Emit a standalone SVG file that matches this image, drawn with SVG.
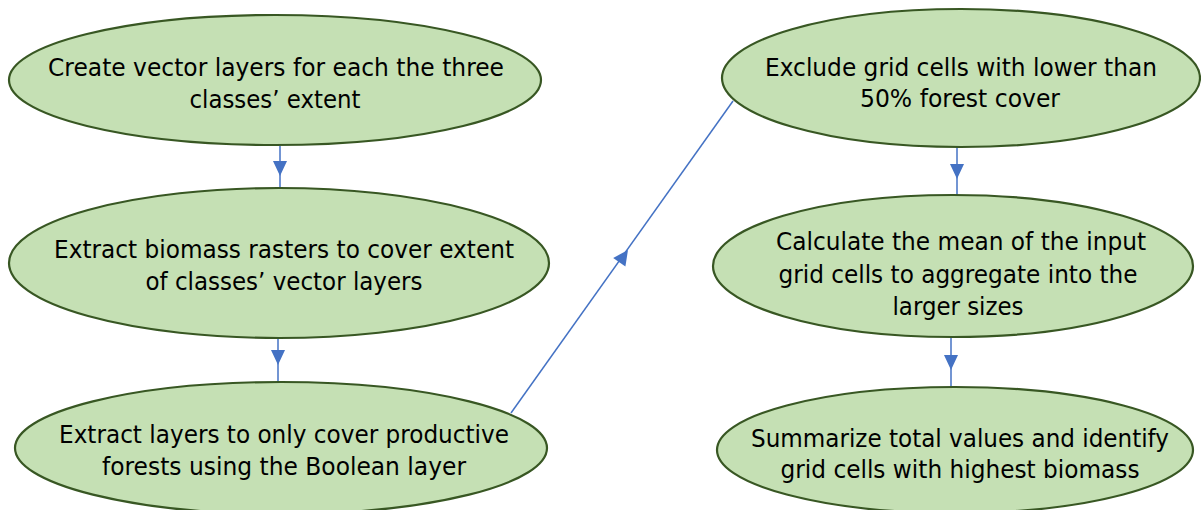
<svg xmlns="http://www.w3.org/2000/svg" width="1201" height="510" viewBox="0 0 1201 510">
<defs>
<style>
.node ellipse{fill:#C5E0B4;stroke:#385723;stroke-width:2.2}
.node text{font-family:"DejaVu Sans","Liberation Sans",sans-serif;font-size:24px;fill:#000;text-anchor:middle}
.conn line{stroke:#4472C4;stroke-width:1.5;fill:none}
.conn path{fill:#4472C4;stroke:none}
</style>
</defs>
<rect width="1201" height="510" fill="#fff"/>
<g class="conn" id="connectors">
<line x1="280" y1="146" x2="280" y2="188"/>
<path d="M273,161 L287,161 L280,176 Z"/>
<line x1="278" y1="337" x2="278" y2="382"/>
<path d="M271,350 L285,350 L278,365 Z"/>
<line x1="511" y1="413" x2="733" y2="101"/>
<path d="M628,250 L625.4,266.6 L613.2,257.9 Z"/>
<line x1="957" y1="147" x2="957" y2="196"/>
<path d="M950,164 L964,164 L957,179 Z"/>
<line x1="951" y1="338" x2="951" y2="387"/>
<path d="M944,355 L958,355 L951,370 Z"/>
</g>
<g class="node" id="n1">
<ellipse cx="275" cy="80" rx="266" ry="65"/>
<text x="276" y="76" textLength="456" lengthAdjust="spacingAndGlyphs">Create vector layers for each the three</text>
<text x="275" y="108" textLength="171" lengthAdjust="spacingAndGlyphs">classes’ extent</text>
</g>
<g class="node" id="n2">
<ellipse cx="279" cy="263" rx="270" ry="75"/>
<text x="284" y="258" textLength="460" lengthAdjust="spacingAndGlyphs">Extract biomass rasters to cover extent</text>
<text x="284" y="290" textLength="277" lengthAdjust="spacingAndGlyphs">of classes’ vector layers</text>
</g>
<g class="node" id="n3">
<ellipse cx="281" cy="448" rx="266" ry="66"/>
<text x="284" y="443" textLength="450" lengthAdjust="spacingAndGlyphs">Extract layers to only cover productive</text>
<text x="284" y="475" textLength="364" lengthAdjust="spacingAndGlyphs">forests using the Boolean layer</text>
</g>
<g class="node" id="n4">
<ellipse cx="961" cy="78" rx="239" ry="69"/>
<text x="961" y="76" textLength="392" lengthAdjust="spacingAndGlyphs">Exclude grid cells with lower than</text>
<text x="960" y="107" textLength="200" lengthAdjust="spacingAndGlyphs">50% forest cover</text>
</g>
<g class="node" id="n5">
<ellipse cx="953" cy="266" rx="240" ry="71"/>
<text x="961" y="250" textLength="370" lengthAdjust="spacingAndGlyphs">Calculate the mean of the input</text>
<text x="958" y="283" textLength="359" lengthAdjust="spacingAndGlyphs">grid cells to aggregate into the</text>
<text x="958" y="315" textLength="131" lengthAdjust="spacingAndGlyphs">larger sizes</text>
</g>
<g class="node" id="n6">
<ellipse cx="955" cy="450" rx="238" ry="63"/>
<text x="960" y="447" textLength="418" lengthAdjust="spacingAndGlyphs">Summarize total values and identify</text>
<text x="960" y="478" textLength="359" lengthAdjust="spacingAndGlyphs">grid cells with highest biomass</text>
</g>
</svg>
